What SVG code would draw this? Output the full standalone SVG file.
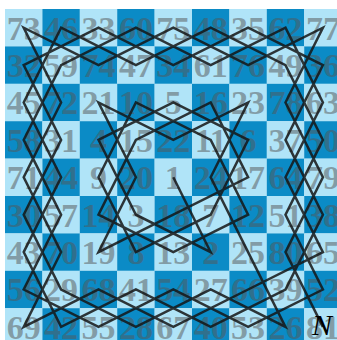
<svg xmlns="http://www.w3.org/2000/svg" width="337" height="340" viewBox="0 0 337 340">
<style>
.l{fill:#b0e4f8}
.d{fill:#0b8bc6}
.n{font-family:"Liberation Serif","Times New Roman",serif;font-weight:bold;font-size:34px;fill:#555;fill-opacity:0.5;text-anchor:middle}
.tour{fill:none;stroke:#151515;stroke-opacity:0.85;stroke-width:2.5;stroke-linejoin:miter}
.mark{font-family:"Liberation Serif","Times New Roman",serif;font-style:italic;font-size:30px;fill:#000;text-anchor:middle}
</style>
<rect width="337" height="340" fill="#fff"/>
<g id="board">
<g id="r0">
<g id="c73"><rect class="l" x="5" y="9" width="37.5" height="37.5"/><text class="n" x="23.7" y="39.5">73</text></g>
<g id="c46"><rect class="d" x="42.4" y="9" width="37.5" height="37.5"/><text class="n" x="61.1" y="39.5">46</text></g>
<g id="c33"><rect class="l" x="79.8" y="9" width="37.5" height="37.5"/><text class="n" x="98.5" y="39.5">33</text></g>
<g id="c60"><rect class="d" x="117.2" y="9" width="37.5" height="37.5"/><text class="n" x="135.9" y="39.5">60</text></g>
<g id="c75"><rect class="l" x="154.6" y="9" width="37.5" height="37.5"/><text class="n" x="173.3" y="39.5">75</text></g>
<g id="c48"><rect class="d" x="192" y="9" width="37.5" height="37.5"/><text class="n" x="210.7" y="39.5">48</text></g>
<g id="c35"><rect class="l" x="229.4" y="9" width="37.5" height="37.5"/><text class="n" x="248.1" y="39.5">35</text></g>
<g id="c62"><rect class="d" x="266.8" y="9" width="37.5" height="37.5"/><text class="n" x="285.5" y="39.5">62</text></g>
<g id="c77"><rect class="l" x="304.2" y="9" width="37.5" height="37.5"/><text class="n" x="322.9" y="39.5">77</text></g>
</g>
<g id="r1">
<g id="c32"><rect class="d" x="5" y="46.4" width="37.5" height="37.5"/><text class="n" x="23.7" y="76.9">32</text></g>
<g id="c59"><rect class="l" x="42.4" y="46.4" width="37.5" height="37.5"/><text class="n" x="61.1" y="76.9">59</text></g>
<g id="c74"><rect class="d" x="79.8" y="46.4" width="37.5" height="37.5"/><text class="n" x="98.5" y="76.9">74</text></g>
<g id="c47"><rect class="l" x="117.2" y="46.4" width="37.5" height="37.5"/><text class="n" x="135.9" y="76.9">47</text></g>
<g id="c34"><rect class="d" x="154.6" y="46.4" width="37.5" height="37.5"/><text class="n" x="173.3" y="76.9">34</text></g>
<g id="c61"><rect class="l" x="192" y="46.4" width="37.5" height="37.5"/><text class="n" x="210.7" y="76.9">61</text></g>
<g id="c76"><rect class="d" x="229.4" y="46.4" width="37.5" height="37.5"/><text class="n" x="248.1" y="76.9">76</text></g>
<g id="c49"><rect class="l" x="266.8" y="46.4" width="37.5" height="37.5"/><text class="n" x="285.5" y="76.9">49</text></g>
<g id="c36"><rect class="d" x="304.2" y="46.4" width="37.5" height="37.5"/><text class="n" x="322.9" y="76.9">36</text></g>
</g>
<g id="r2">
<g id="c45"><rect class="l" x="5" y="83.8" width="37.5" height="37.5"/><text class="n" x="23.7" y="114.3">45</text></g>
<g id="c72"><rect class="d" x="42.4" y="83.8" width="37.5" height="37.5"/><text class="n" x="61.1" y="114.3">72</text></g>
<g id="c21"><rect class="l" x="79.8" y="83.8" width="37.5" height="37.5"/><text class="n" x="98.5" y="114.3">21</text></g>
<g id="c10"><rect class="d" x="117.2" y="83.8" width="37.5" height="37.5"/><text class="n" x="135.9" y="114.3">10</text></g>
<g id="c5"><rect class="l" x="154.6" y="83.8" width="37.5" height="37.5"/><text class="n" x="173.3" y="114.3">5</text></g>
<g id="c16"><rect class="d" x="192" y="83.8" width="37.5" height="37.5"/><text class="n" x="210.7" y="114.3">16</text></g>
<g id="c23"><rect class="l" x="229.4" y="83.8" width="37.5" height="37.5"/><text class="n" x="248.1" y="114.3">23</text></g>
<g id="c78"><rect class="d" x="266.8" y="83.8" width="37.5" height="37.5"/><text class="n" x="285.5" y="114.3">78</text></g>
<g id="c63"><rect class="l" x="304.2" y="83.8" width="37.5" height="37.5"/><text class="n" x="322.9" y="114.3">63</text></g>
</g>
<g id="r3">
<g id="c58"><rect class="d" x="5" y="121.2" width="37.5" height="37.5"/><text class="n" x="23.7" y="151.7">58</text></g>
<g id="c31"><rect class="l" x="42.4" y="121.2" width="37.5" height="37.5"/><text class="n" x="61.1" y="151.7">31</text></g>
<g id="c4"><rect class="d" x="79.8" y="121.2" width="37.5" height="37.5"/><text class="n" x="98.5" y="151.7">4</text></g>
<g id="c15"><rect class="l" x="117.2" y="121.2" width="37.5" height="37.5"/><text class="n" x="135.9" y="151.7">15</text></g>
<g id="c22"><rect class="d" x="154.6" y="121.2" width="37.5" height="37.5"/><text class="n" x="173.3" y="151.7">22</text></g>
<g id="c11"><rect class="l" x="192" y="121.2" width="37.5" height="37.5"/><text class="n" x="210.7" y="151.7">11</text></g>
<g id="c6"><rect class="d" x="229.4" y="121.2" width="37.5" height="37.5"/><text class="n" x="248.1" y="151.7">6</text></g>
<g id="c37"><rect class="l" x="266.8" y="121.2" width="37.5" height="37.5"/><text class="n" x="285.5" y="151.7">37</text></g>
<g id="c50"><rect class="d" x="304.2" y="121.2" width="37.5" height="37.5"/><text class="n" x="322.9" y="151.7">50</text></g>
</g>
<g id="r4">
<g id="c71"><rect class="l" x="5" y="158.6" width="37.5" height="37.5"/><text class="n" x="23.7" y="189.1">71</text></g>
<g id="c44"><rect class="d" x="42.4" y="158.6" width="37.5" height="37.5"/><text class="n" x="61.1" y="189.1">44</text></g>
<g id="c9"><rect class="l" x="79.8" y="158.6" width="37.5" height="37.5"/><text class="n" x="98.5" y="189.1">9</text></g>
<g id="c20"><rect class="d" x="117.2" y="158.6" width="37.5" height="37.5"/><text class="n" x="135.9" y="189.1">20</text></g>
<g id="c1"><rect class="l" x="154.6" y="158.6" width="37.5" height="37.5"/><text class="n" x="173.3" y="189.1">1</text></g>
<g id="c24"><rect class="d" x="192" y="158.6" width="37.5" height="37.5"/><text class="n" x="210.7" y="189.1">24</text></g>
<g id="c17"><rect class="l" x="229.4" y="158.6" width="37.5" height="37.5"/><text class="n" x="248.1" y="189.1">17</text></g>
<g id="c64"><rect class="d" x="266.8" y="158.6" width="37.5" height="37.5"/><text class="n" x="285.5" y="189.1">64</text></g>
<g id="c79"><rect class="l" x="304.2" y="158.6" width="37.5" height="37.5"/><text class="n" x="322.9" y="189.1">79</text></g>
</g>
<g id="r5">
<g id="c30"><rect class="d" x="5" y="196" width="37.5" height="37.5"/><text class="n" x="23.7" y="226.5">30</text></g>
<g id="c57"><rect class="l" x="42.4" y="196" width="37.5" height="37.5"/><text class="n" x="61.1" y="226.5">57</text></g>
<g id="c14"><rect class="d" x="79.8" y="196" width="37.5" height="37.5"/><text class="n" x="98.5" y="226.5">14</text></g>
<g id="c3"><rect class="l" x="117.2" y="196" width="37.5" height="37.5"/><text class="n" x="135.9" y="226.5">3</text></g>
<g id="c18"><rect class="d" x="154.6" y="196" width="37.5" height="37.5"/><text class="n" x="173.3" y="226.5">18</text></g>
<g id="c7"><rect class="l" x="192" y="196" width="37.5" height="37.5"/><text class="n" x="210.7" y="226.5">7</text></g>
<g id="c12"><rect class="d" x="229.4" y="196" width="37.5" height="37.5"/><text class="n" x="248.1" y="226.5">12</text></g>
<g id="c51"><rect class="l" x="266.8" y="196" width="37.5" height="37.5"/><text class="n" x="285.5" y="226.5">51</text></g>
<g id="c38"><rect class="d" x="304.2" y="196" width="37.5" height="37.5"/><text class="n" x="322.9" y="226.5">38</text></g>
</g>
<g id="r6">
<g id="c43"><rect class="l" x="5" y="233.4" width="37.5" height="37.5"/><text class="n" x="23.7" y="263.9">43</text></g>
<g id="c70"><rect class="d" x="42.4" y="233.4" width="37.5" height="37.5"/><text class="n" x="61.1" y="263.9">70</text></g>
<g id="c19"><rect class="l" x="79.8" y="233.4" width="37.5" height="37.5"/><text class="n" x="98.5" y="263.9">19</text></g>
<g id="c8"><rect class="d" x="117.2" y="233.4" width="37.5" height="37.5"/><text class="n" x="135.9" y="263.9">8</text></g>
<g id="c13"><rect class="l" x="154.6" y="233.4" width="37.5" height="37.5"/><text class="n" x="173.3" y="263.9">13</text></g>
<g id="c2"><rect class="d" x="192" y="233.4" width="37.5" height="37.5"/><text class="n" x="210.7" y="263.9">2</text></g>
<g id="c25"><rect class="l" x="229.4" y="233.4" width="37.5" height="37.5"/><text class="n" x="248.1" y="263.9">25</text></g>
<g id="c80"><rect class="d" x="266.8" y="233.4" width="37.5" height="37.5"/><text class="n" x="285.5" y="263.9">80</text></g>
<g id="c65"><rect class="l" x="304.2" y="233.4" width="37.5" height="37.5"/><text class="n" x="322.9" y="263.9">65</text></g>
</g>
<g id="r7">
<g id="c56"><rect class="d" x="5" y="270.8" width="37.5" height="37.5"/><text class="n" x="23.7" y="301.3">56</text></g>
<g id="c29"><rect class="l" x="42.4" y="270.8" width="37.5" height="37.5"/><text class="n" x="61.1" y="301.3">29</text></g>
<g id="c68"><rect class="d" x="79.8" y="270.8" width="37.5" height="37.5"/><text class="n" x="98.5" y="301.3">68</text></g>
<g id="c41"><rect class="l" x="117.2" y="270.8" width="37.5" height="37.5"/><text class="n" x="135.9" y="301.3">41</text></g>
<g id="c54"><rect class="d" x="154.6" y="270.8" width="37.5" height="37.5"/><text class="n" x="173.3" y="301.3">54</text></g>
<g id="c27"><rect class="l" x="192" y="270.8" width="37.5" height="37.5"/><text class="n" x="210.7" y="301.3">27</text></g>
<g id="c66"><rect class="d" x="229.4" y="270.8" width="37.5" height="37.5"/><text class="n" x="248.1" y="301.3">66</text></g>
<g id="c39"><rect class="l" x="266.8" y="270.8" width="37.5" height="37.5"/><text class="n" x="285.5" y="301.3">39</text></g>
<g id="c52"><rect class="d" x="304.2" y="270.8" width="37.5" height="37.5"/><text class="n" x="322.9" y="301.3">52</text></g>
</g>
<g id="r8">
<g id="c69"><rect class="l" x="5" y="308.2" width="37.5" height="37.5"/><text class="n" x="23.7" y="338.7">69</text></g>
<g id="c42"><rect class="d" x="42.4" y="308.2" width="37.5" height="37.5"/><text class="n" x="61.1" y="338.7">42</text></g>
<g id="c55"><rect class="l" x="79.8" y="308.2" width="37.5" height="37.5"/><text class="n" x="98.5" y="338.7">55</text></g>
<g id="c28"><rect class="d" x="117.2" y="308.2" width="37.5" height="37.5"/><text class="n" x="135.9" y="338.7">28</text></g>
<g id="c67"><rect class="l" x="154.6" y="308.2" width="37.5" height="37.5"/><text class="n" x="173.3" y="338.7">67</text></g>
<g id="c40"><rect class="d" x="192" y="308.2" width="37.5" height="37.5"/><text class="n" x="210.7" y="338.7">40</text></g>
<g id="c53"><rect class="l" x="229.4" y="308.2" width="37.5" height="37.5"/><text class="n" x="248.1" y="338.7">53</text></g>
<g id="c26"><rect class="d" x="266.8" y="308.2" width="37.5" height="37.5"/><text class="n" x="285.5" y="338.7">26</text></g>
<g id="c81"><rect class="l" x="304.2" y="308.2" width="37.5" height="37.5"/><text class="n" x="322.9" y="338.7">81</text></g>
</g>
</g>
<g id="connectors">
<polyline class="tour" points="173.3,177.3 210.7,252.1 135.9,214.7 98.5,139.9 173.3,102.5 248.1,139.9 210.7,214.7 135.9,252.1 98.5,177.3 135.9,102.5 210.7,139.9 248.1,214.7 173.3,252.1 98.5,214.7 135.9,139.9 210.7,102.5 248.1,177.3 173.3,214.7 98.5,252.1 135.9,177.3 98.5,102.5 173.3,139.9 248.1,102.5 210.7,177.3 248.1,252.1 285.5,326.9 210.7,289.5 135.9,326.9 61.1,289.5 23.7,214.7 61.1,139.9 23.7,65.1 98.5,27.7 173.3,65.1 248.1,27.7 322.9,65.1 285.5,139.9 322.9,214.7 285.5,289.5 210.7,326.9 135.9,289.5 61.1,326.9 23.7,252.1 61.1,177.3 23.7,102.5 61.1,27.7 135.9,65.1 210.7,27.7 285.5,65.1 322.9,139.9 285.5,214.7 322.9,289.5 248.1,326.9 173.3,289.5 98.5,326.9 23.7,289.5 61.1,214.7 23.7,139.9 61.1,65.1 135.9,27.7 210.7,65.1 285.5,27.7 322.9,102.5 285.5,177.3 322.9,252.1 248.1,289.5 173.3,326.9 98.5,289.5 23.7,326.9 61.1,252.1 23.7,177.3 61.1,102.5 23.7,27.7 98.5,65.1 173.3,27.7 248.1,65.1 322.9,27.7 285.5,102.5 322.9,177.3 285.5,252.1 322.9,326.9"/>
</g>
<g id="knight"><text class="mark" x="322" y="335">N</text></g>
</svg>
